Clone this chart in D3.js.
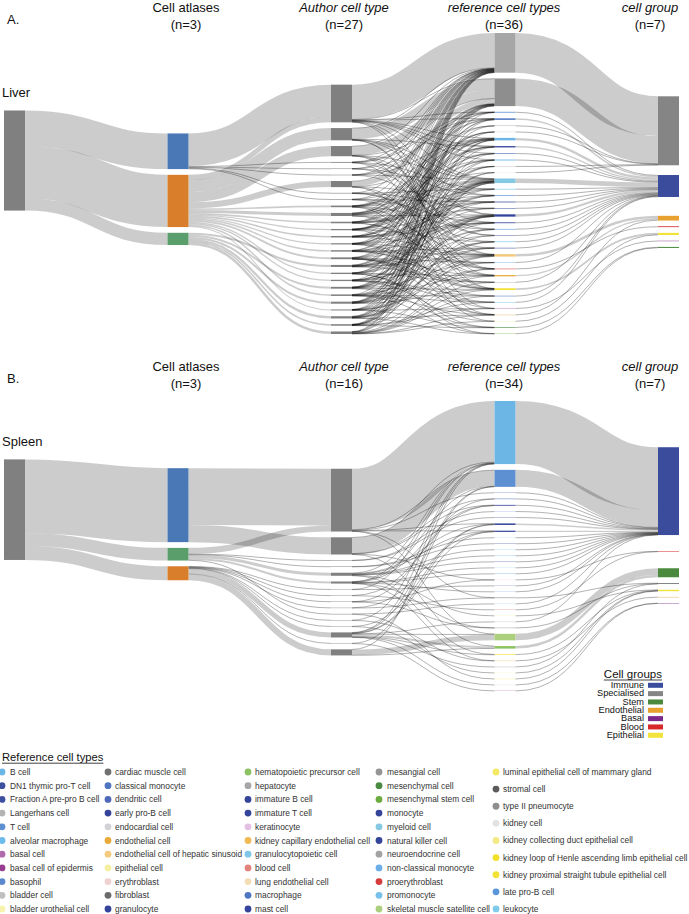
<!DOCTYPE html>
<html><head><meta charset="utf-8">
<script src="https://cdn.jsdelivr.net/npm/d3@7"></script>
<style>body{margin:0;background:#fff}svg{display:block}text{font-family:"Liberation Sans",Arial,sans-serif;fill:#111}</style>
</head><body><svg id="c" width="689" height="914"></svg>
<script>
// ---------------- DATA ----------------
const atlasNames = ["Atlas 1", "Atlas 2", "Atlas 3"];
const atlasColors = ["#4a78b6", "#d97f2b", "#5a9e6b"];

const groupNames = ["Immune", "Specialised", "Stem", "Endothelial", "Basal", "Blood", "Epithelial"];
const groupColors = ["#3a4c9b", "#858585", "#4b8a3e", "#e8a12e", "#7b2a8c", "#d7292a", "#f2e33a"];

const refLegendNames = [
 "B cell","DN1 thymic pro-T cell","Fraction A pre-pro B cell","Langerhans cell","T cell","alveolar macrophage","basal cell","basal cell of epidermis","basophil","bladder cell","bladder urothelial cell",
 "cardiac muscle cell","classical monocyte","dendritic cell","early pro-B cell","endocardial cell","endothelial cell","endothelial cell of hepatic sinusoid","epithelial cell","erythroblast","fibroblast","granulocyte",
 "hematopoietic precursor cell","hepatocyte","immature B cell","immature T cell","keratinocyte","kidney capillary endothelial cell","granulocytopoietic cell","blood cell","lung endothelial cell","macrophage","mast cell",
 "mesangial cell","mesenchymal cell","mesenchymal stem cell","monocyte","myeloid cell","natural killer cell","neuroendocrine cell","non-classical monocyte","proerythroblast","promonocyte","skeletal muscle satellite cell",
 "luminal epithelial cell of mammary gland","stromal cell","type II pneumocyte","kidney cell","kidney collecting duct epithelial cell","kidney loop of Henle ascending limb epithelial cell","kidney proximal straight tubule epithelial cell","late pro-B cell","leukocyte"];
const refLegendColors = [
 "#6cb6e6","#3d4f9f","#3d4f9f","#b3b3b3","#5d8fd3","#6cbbec","#b06aae","#963f90","#5a88cf","#bfbfbf","#f7f3ad",
 "#707070","#4f74c0","#4f68b9","#35449b","#d2d2d6","#e8aa3b","#f3cb80","#f5efa2","#efd1d1","#6b6b6b","#35449b",
 "#8dc262","#a6a6a6","#35449b","#35449b","#e3bfe1","#efba52","#80c6e8","#e2837c","#f3ddb4","#4f76c2","#35449b",
 "#959595","#4a8a42","#6bab3f","#35449b","#84c8e2","#35449b","#a2a2a2","#6caee8","#d63c3c","#78c0ea","#abcf7c",
 "#f3e965","#5b5b5b","#8e8e8e","#e2e2e2","#f3ea85","#f0e027","#f1e235","#5b96da","#80cbea"];
const refLegendGroup = [
 "Immune","Immune","Immune","Immune","Immune","Immune","Basal","Basal","Immune","Specialised","Epithelial",
 "Specialised","Immune","Immune","Immune","Specialised","Endothelial","Endothelial","Epithelial","Blood","Specialised","Immune",
 "Stem","Specialised","Immune","Immune","Basal","Endothelial","Immune","Blood","Endothelial","Immune","Immune",
 "Specialised","Stem","Stem","Immune","Immune","Immune","Specialised","Immune","Blood","Immune","Stem",
 "Epithelial","Specialised","Specialised","Specialised","Epithelial","Epithelial","Epithelial","Immune","Immune"];

// ----- Panel A : Liver -----
const tissueA = "Liver";
const authorsA = ["LA01","LA02","LA03","LA04","LA05","LA06","LA07","LA08","LA09","LA10","LA11","LA12","LA13","LA14","LA15","LA16","LA17","LA18","LA19","LA20","LA21","LA22","LA23","LA24","LA25","LA26","LA27"];
const refsA = ["hepatocyte","type II pneumocyte","endocardial cell","bladder cell","dendritic cell","alveolar macrophage","kidney cell","Langerhans cell","neuroendocrine cell","myeloid cell","granulocytopoietic cell","natural killer cell","B cell","T cell","leukocyte","classical monocyte","promonocyte","non-classical monocyte","macrophage","monocyte","basophil","early pro-B cell","late pro-B cell","immature B cell","immature T cell","hematopoietic precursor cell","blood cell","DN1 thymic pro-T cell","kidney proximal straight tubule epithelial cell","Fraction A pre-pro B cell","mesenchymal cell","lung endothelial cell","bladder urothelial cell","basal cell","endothelial cell","endothelial cell of hepatic sinusoid"];
const groupsA = ["Specialised","Immune","Blood","Epithelial","Stem","Endothelial","Basal"];
// [atlas, author, value]
const atlasAuthorA = [[0,0,32],[1,0,5],[1,1,12],[1,2,6],[1,3,10],[1,4,1.2],[1,5,1.2],[1,6,1.0],[1,7,1.3],[1,8,1.3],[1,9,3.0],[1,10,1.5],[1,11,1.4],[1,12,1.6],[1,13,1.5],[0,14,0.5],[1,15,1.5],[1,16,1.8],[0,17,0.5],[2,18,2.0],[2,19,1.5],[0,20,0.6],[2,21,2.0],[2,22,1.8],[0,23,0.6],[2,24,2.2],[0,25,0.8],[2,26,2.5]];
// [author, reference type, value]
const authorRefA = [
 [0,0,34],[0,11,.3],[0,18,.3],[0,35,.4],[0,9,.3],[0,12,.3],[0,1,.4],[0,23,.2],[0,28,.2],[0,15,.2],[0,5,.2],[0,20,.2],
 [1,1,10.6],[1,0,.3],[1,9,.3],[1,23,.2],[1,34,.2],[1,11,.15],[1,13,.1],[1,26,.15],
 [2,1,5],[2,0,.4],[2,12,.25],[2,26,.15],[2,19,.1],[2,31,.1],
 [3,1,8.6],[3,0,.5],[3,28,.25],[3,9,.25],[3,35,.2],[3,18,.1],[3,24,.1],
 [4,0,.15],[4,9,.15],[4,15,.15],[4,24,.1],[4,31,.1],[4,2,.1],[4,12,.15],[4,19,.1],[4,28,.1],[4,35,.1],
 [5,1,.15],[5,5,.15],[5,12,.15],[5,20,.1],[5,29,.1],[5,8,.1],[5,16,.1],[5,23,.15],[5,33,.1],[5,3,.1],
 [6,2,.1],[6,11,.15],[6,17,.1],[6,33,.1],[6,0,.1],[6,6,.1],[6,21,.1],[6,26,.1],[6,30,.15],
 [7,0,.15],[7,10,.15],[7,14,.15],[7,27,.15],[7,35,.15],[7,4,.1],[7,13,.1],[7,22,.1],[7,9,.15],[7,32,.1],
 [8,3,.15],[8,9,.2],[8,19,.15],[8,30,.15],[8,1,.15],[8,11,.1],[8,18,.1],[8,25,.1],[8,34,.1],[8,7,.1],
 [9,9,.8],[9,12,.5],[9,18,.4],[9,23,.2],[9,6,.15],[9,0,.2],[9,1,.2],[9,11,.15],[9,15,.1],[9,20,.1],[9,28,.1],[9,35,.1],
 [10,4,.15],[10,11,.25],[10,16,.15],[10,25,.1],[10,34,.15],[10,0,.2],[10,9,.15],[10,14,.1],[10,21,.1],[10,31,.15],
 [11,1,.2],[11,13,.15],[11,21,.1],[11,28,.15],[11,7,.1],[11,0,.15],[11,10,.15],[11,17,.1],[11,24,.1],[11,35,.2],
 [12,0,.2],[12,8,.15],[12,18,.2],[12,22,.15],[12,32,.1],[12,1,.2],[12,9,.2],[12,12,.15],[12,26,.1],[12,5,.15],
 [13,5,.15],[13,11,.2],[13,15,.1],[13,24,.15],[13,35,.2],[13,0,.2],[13,2,.1],[13,12,.15],[13,19,.1],[13,29,.15],
 [14,0,.1],[14,12,.1],[14,9,.1],[14,20,.1],[14,27,.1],
 [15,9,.25],[15,10,.15],[15,19,.15],[15,26,.1],[15,2,.1],[15,0,.2],[15,1,.15],[15,13,.1],[15,23,.15],[15,34,.15],
 [16,1,.2],[16,11,.25],[16,17,.1],[16,23,.2],[16,34,.2],[16,0,.2],[16,9,.2],[16,4,.1],[16,14,.1],[16,28,.15],[16,31,.1],
 [17,0,.15],[17,13,.1],[17,18,.1],[17,22,.15],
 [18,9,.4],[18,12,.2],[18,20,.1],[18,28,.3],[18,3,.1],[18,0,.2],[18,1,.2],[18,11,.15],[18,16,.1],[18,24,.1],[18,35,.15],
 [19,6,.1],[19,14,.15],[19,18,.15],[19,26,.2],[19,30,.15],[19,0,.2],[19,9,.15],[19,12,.1],[19,22,.1],[19,33,.1],[19,5,.1],
 [20,0,.15],[20,16,.15],[20,10,.1],[20,21,.1],[20,29,.1],
 [21,1,.3],[21,9,.3],[21,21,.1],[21,29,.15],[21,35,.3],[21,0,.25],[21,11,.15],[21,18,.15],[21,7,.1],[21,24,.1],[21,13,.1],
 [22,8,.15],[22,11,.25],[22,22,.1],[22,28,.25],[22,5,.15],[22,0,.2],[22,1,.2],[22,9,.15],[22,17,.1],[22,30,.15],[22,3,.1],
 [23,0,.15],[23,24,.15],[23,12,.1],[23,19,.1],[23,34,.1],
 [24,9,.3],[24,12,.25],[24,23,.2],[24,31,.25],[24,25,.2],[24,0,.25],[24,1,.2],[24,11,.15],[24,16,.1],[24,27,.1],[24,35,.2],
 [25,1,.2],[25,27,.1],[25,33,.1],[25,0,.15],[25,10,.1],[25,20,.15],
 [26,35,.5],[26,34,.35],[26,32,.2],[26,28,.25],[26,4,.15],[26,7,.15],[26,0,.25],[26,1,.2],[26,9,.15],[26,15,.1],[26,31,.2]];

// ----- Panel B : Spleen -----
const tissueB = "Spleen";
const authorsB = ["SA01","SA02","SA03","SA04","SA05","SA06","SA07","SA08","SA09","SA10","SA11","SA12","SA13","SA14","SA15","SA16"];
const refsB = ["B cell","T cell","dendritic cell","leukocyte","myeloid cell","classical monocyte","granulocytopoietic cell","natural killer cell","immature T cell","immature B cell","late pro-B cell","macrophage","non-classical monocyte","promonocyte","monocyte","Langerhans cell","basophil","granulocyte","skeletal muscle satellite cell","early pro-B cell","Fraction A pre-pro B cell","hematopoietic precursor cell","kidney loop of Henle ascending limb epithelial cell","epithelial cell","bladder urothelial cell","endothelial cell of hepatic sinusoid","erythroblast","proerythroblast","luminal epithelial cell of mammary gland","stromal cell","fibroblast","mesangial cell","basal cell of epidermis","keratinocyte"];
const groupsB = ["Immune","Stem","Epithelial","Endothelial","Blood","Specialised","Basal"];
const atlasAuthorB = [[0,0,56],[2,0,6],[0,1,17],[2,2,3],[2,3,2],[2,4,.5],[2,5,.5],[2,6,.5],[1,7,6],[1,8,5],[1,9,.4],[1,10,.4],[1,11,.4],[1,12,.4],[1,13,.4],[1,14,.4],[1,15,.4]];
const authorRefB = [
 [0,0,60],[0,7,.4],[0,1,.5],[0,9,.3],[0,18,.3],[0,29,.2],[0,2,.3],
 [1,1,15.5],[1,0,.5],[1,8,.3],[1,11,.3],[1,21,.2],[1,26,.2],
 [2,0,.6],[2,7,.5],[2,9,.4],[2,14,.3],[2,22,.3],[2,3,.3],[2,24,.3],[2,12,.3],
 [3,0,.3],[3,1,.3],[3,8,.3],[3,10,.3],[3,16,.2],[3,25,.2],[3,30,.2],[3,4,.2],
 [4,5,.2],[4,19,.3],
 [5,13,.2],[5,28,.3],
 [6,6,.2],[6,17,.3],
 [7,18,5.5],[7,21,.3],[7,0,.2],
 [8,21,2.0],[8,18,.6],[8,7,.4],[8,9,.3],[8,22,.3],[8,15,.3],[8,31,.3],[8,33,.2],[8,0,.3],[8,1,.3],
 [9,0,.2],[9,20,.2],
 [10,7,.2],[10,23,.2],
 [11,8,.2],[11,27,.2],
 [12,9,.2],[12,29,.2],
 [13,1,.2],[13,32,.2],
 [14,11,.2],[14,26,.1],[14,30,.1],
 [15,0,.2],[15,25,.2]];

// ---------------- LAYOUT (old d3-sankey algorithm, as used by networkD3) ----------------
const refColor = new Map(refLegendNames.map((n, i) => [n, refLegendColors[i]]));
const refGroup = new Map(refLegendNames.map((n, i) => [n, refLegendGroup[i]]));
const grpColor = new Map(groupNames.map((n, i) => [n, groupColors[i]]));

function buildGraph(tissue, authors, refs, groups, atlasAuthor, authorRef) {
  const nodes = [];
  const add = (name, col, color) => { const n = {name, col, color}; nodes.push(n); return n; };
  const tNode = add(tissue, 0, "#808080");
  const aNodes = atlasNames.map((n, i) => add(n, 1, atlasColors[i]));
  const auNodes = authors.map(n => add(n, 2, "#808080"));
  const rNodes = refs.map(n => add(n, 3, refColor.get(n)));
  const gNodes = groups.map(n => add(n, 4, grpColor.get(n)));
  const links = [];
  const atlasTot = d3.rollup(atlasAuthor, v => d3.sum(v, d => d[2]), d => d[0]);
  atlasNames.forEach((n, i) => { if (atlasTot.get(i)) links.push({source: tNode, target: aNodes[i], value: atlasTot.get(i)}); });
  atlasAuthor.forEach(([a, u, v]) => links.push({source: aNodes[a], target: auNodes[u], value: v}));
  authorRef.forEach(([u, r, v]) => links.push({source: auNodes[u], target: rNodes[r], value: v}));
  const refTot = d3.rollup(authorRef, v => d3.sum(v, d => d[2]), d => d[1]);
  refs.forEach((n, i) => links.push({source: rNodes[i], target: gNodes[groups.indexOf(refGroup.get(n))], value: refTot.get(i)}));
  return {nodes, links};
}

function sankey(graph, y0, y1, py) {
  const {nodes, links} = graph;
  nodes.forEach(n => { n.sourceLinks = []; n.targetLinks = []; });
  links.forEach(l => { l.source.sourceLinks.push(l); l.target.targetLinks.push(l); });
  nodes.forEach(n => n.value = Math.max(d3.sum(n.sourceLinks, l => l.value), d3.sum(n.targetLinks, l => l.value)));
  const cols = d3.groups(nodes, n => n.col).sort((a, b) => a[0] - b[0]).map(d => d[1]);
  const H = y1 - y0;
  const ky = d3.min(cols, c => (H - (c.length - 1) * py) / d3.sum(c, n => n.value));
  const vy = d3.scaleLinear().domain([0, 1]).range([0, ky]);
  cols.forEach(c => c.forEach((n, i) => { n.y = i; n.dy = vy(n.value); }));
  links.forEach(l => l.dy = vy(l.value));
  const center = n => n.y + n.dy / 2;
  function resolve() {
    cols.forEach(c => {
      c.sort((a, b) => a.y - b.y);
      let yy = 0, n, d, i;
      for (i = 0; i < c.length; ++i) { n = c[i]; d = yy - n.y; if (d > 0) n.y += d; yy = n.y + n.dy + py; }
      d = yy - py - H;
      if (d > 0) {
        yy = n.y -= d;
        for (i = c.length - 2; i >= 0; --i) { n = c[i]; d = n.y + n.dy + py - yy; if (d > 0) n.y -= d; yy = n.y; }
      }
    });
  }
  function relaxLR(alpha) {
    cols.forEach(c => c.forEach(n => {
      if (n.targetLinks.length) {
        const y = d3.sum(n.targetLinks, l => center(l.source) * l.value) / d3.sum(n.targetLinks, l => l.value);
        n.y += (y - center(n)) * alpha;
      }
    }));
  }
  function relaxRL(alpha) {
    cols.slice().reverse().forEach(c => c.forEach(n => {
      if (n.sourceLinks.length) {
        const y = d3.sum(n.sourceLinks, l => center(l.target) * l.value) / d3.sum(n.sourceLinks, l => l.value);
        n.y += (y - center(n)) * alpha;
      }
    }));
  }
  resolve();
  for (let alpha = 1, it = 32; it > 0; --it) { relaxRL(alpha *= .99); resolve(); relaxLR(alpha); resolve(); }
  nodes.forEach(n => {
    n.sourceLinks.sort((a, b) => a.target.y - b.target.y);
    n.targetLinks.sort((a, b) => a.source.y - b.source.y);
    let sy = 0, ty = 0;
    n.sourceLinks.forEach(l => { l.sy = sy; sy += l.dy; });
    n.targetLinks.forEach(l => { l.ty = ty; ty += l.dy; });
  });
  nodes.forEach(n => n.y += y0);
  return graph;
}

// ---------------- DRAW ----------------
const svg = d3.select("#c");
const NW = 21;
const xCol = d3.scalePoint().domain([0, 1, 2, 3, 4]).range([4, 658]);

function drawPanel(graph) {
  const g = svg.append("g");
  const linkPath = l => {
    const x0 = xCol(l.source.col) + NW, x1 = xCol(l.target.col);
    const xi = d3.interpolateNumber(x0, x1), x2 = xi(.5), x3 = xi(.5);
    const ya = l.source.y + l.sy + l.dy / 2, yb = l.target.y + l.ty + l.dy / 2;
    return `M${x0},${ya}C${x2},${ya} ${x3},${yb} ${x1},${yb}`;
  };
  g.append("g").selectAll("path").data(graph.links.slice().sort((a, b) => b.dy - a.dy)).join("path")
    .attr("d", linkPath).attr("fill", "none").attr("stroke", "#000")
    .attr("stroke-opacity", l => l.dy < 1 ? 0.3 : 0.2)
    .attr("stroke-width", l => Math.max(1, l.dy));
  g.append("g").selectAll("rect").data(graph.nodes).join("rect")
    .attr("x", n => xCol(n.col)).attr("y", n => n.y).attr("width", NW).attr("height", n => n.dy)
    .attr("fill", n => n.color);
}

const gA = sankey(buildGraph(tissueA, authorsA, refsA, groupsA, atlasAuthorA, authorRefA), 33, 334, 5.74);
drawPanel(gA);
const gB = sankey(buildGraph(tissueB, authorsB, refsB, groupsB, atlasAuthorB, authorRefB), 401, 691, 5.74);
drawPanel(gB);

// headers
const colHeads = [["Cell atlases", 186, false], ["Author cell type", 344, true], ["reference cell types", 504, true], ["cell group", 650, true]];
function headers(y, counts, letter, tissue, tissueY) {
  const h = svg.append("g").style("font-size", "13px");
  h.append("text").attr("x", 7).attr("y", y + 12).text(letter);
  colHeads.forEach(([t, x, it], i) => {
    h.append("text").attr("x", x).attr("y", y).attr("text-anchor", "middle").style("font-style", it ? "italic" : "normal").text(t);
    h.append("text").attr("x", x).attr("y", y + 17.5).attr("text-anchor", "middle").text(`(n=${counts[i]})`);
  });
  h.append("text").attr("x", 2).attr("y", tissueY).text(tissue);
}
headers(11.5, [3, 27, 36, 7], "A.", tissueA, 97);
headers(370.5, [3, 16, 34, 7], "B.", tissueB, 446);

// cell group legend
const cg = svg.append("g");
const cgt = cg.append("text").attr("x", 662).attr("y", 678).attr("text-anchor", "end").style("font-size", "11.5px").text("Cell groups");
const cgw = cgt.node().getComputedTextLength();
cg.append("line").attr("x1", 662 - cgw).attr("x2", 662).attr("y1", 680).attr("y2", 680).attr("stroke", "#111").attr("stroke-width", 0.8);
groupNames.forEach((n, i) => {
  const y = 688 + i * 8.33;
  cg.append("text").attr("x", 644).attr("y", y).attr("text-anchor", "end").style("font-size", "9.2px").text(n);
  cg.append("rect").attr("x", 648).attr("y", y - 5.2).attr("width", 15).attr("height", 5).attr("fill", groupColors[i]);
});

// reference cell type legend
const lg = svg.append("g");
const lt = lg.append("text").attr("x", 2).attr("y", 761).style("font-size", "11.2px").text("Reference cell types");
const ltw = lt.node().getComputedTextLength();
lg.append("line").attr("x1", 2).attr("x2", 2 + ltw).attr("y1", 763.2).attr("y2", 763.2).attr("stroke", "#111").attr("stroke-width", 0.8);
const legCols = [[0, 11, 2, 10, 13.7], [11, 11, 108, 115, 13.7], [22, 11, 248, 255, 13.7], [33, 11, 379, 387, 13.7], [44, 9, 496, 503, 17.12]];
legCols.forEach(([start, cnt, dx, tx, dy]) => {
  d3.range(cnt).forEach(j => {
    const i = start + j, y = 772 + j * dy;
    lg.append("circle").attr("cx", dx).attr("cy", y).attr("r", 3.4).attr("fill", refLegendColors[i]);
    lg.append("text").attr("x", tx).attr("y", y + 3).style("font-size", "8.4px").style("fill", "#333").text(refLegendNames[i]);
  });
});
</script></body></html>
